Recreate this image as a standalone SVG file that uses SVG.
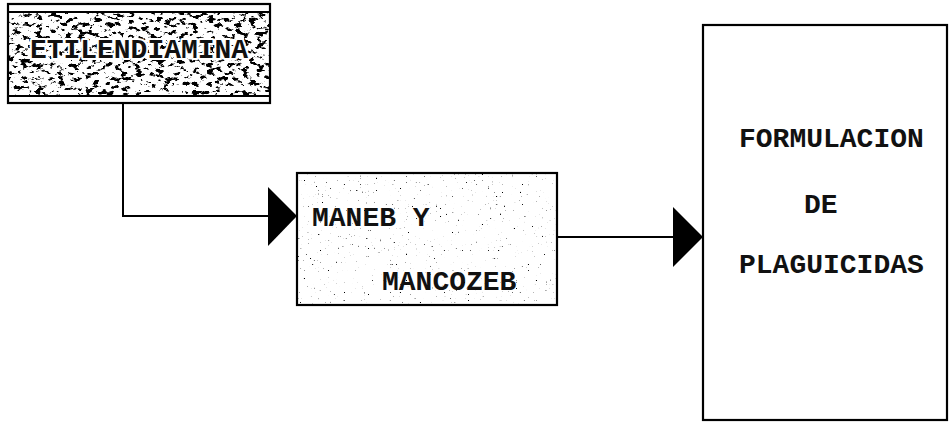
<svg xmlns="http://www.w3.org/2000/svg" width="949" height="422" viewBox="0 0 949 422">
<style>
  .box { fill: none; stroke: #000; stroke-width: 2.2; }
  .line { fill: none; stroke: #000; stroke-width: 2; }
  .head { fill: #000; stroke: none; }
  .lbl { font-family: "Liberation Mono", "Courier New", monospace; font-weight: bold; font-size: 28px; fill: #111; }
  .halo { stroke: #fff; stroke-width: 4px; paint-order: stroke; stroke-linejoin: round; }
</style>
<defs>
  <filter id="speckDark" x="0" y="0" width="100%" height="100%" color-interpolation-filters="sRGB">
    <feTurbulence type="fractalNoise" baseFrequency="0.14 0.22" numOctaves="4" seed="7" result="n"/>
    <feColorMatrix in="n" type="matrix" values="0 0 0 0 0  0 0 0 0 0  0 0 0 0 0  1 0 0 0 0"/>
    <feComponentTransfer><feFuncA type="linear" slope="12" intercept="-6.6"/></feComponentTransfer>
  </filter>
  <filter id="speckLight" x="0" y="0" width="100%" height="100%" color-interpolation-filters="sRGB">
    <feTurbulence type="fractalNoise" baseFrequency="0.5" numOctaves="2" seed="11" result="n"/>
    <feColorMatrix in="n" type="matrix" values="0 0 0 0 0  0 0 0 0 0  0 0 0 0 0  1 0 0 0 0"/>
    <feComponentTransfer><feFuncA type="linear" slope="10" intercept="-7.2"/></feComponentTransfer>
  </filter>
</defs>
<rect width="949" height="422" fill="#fff"/>

<g id="connectors">
  <polyline class="line" points="123,103 123,216 270,216"/>
  <polygon class="head" points="268,187 297,216 268,246"/>
  <line class="line" x1="557" y1="237" x2="675" y2="237"/>
  <polygon class="head" points="673,207 703,237 673,267"/>
</g>

<g id="node-etilendiamina">
  <rect x="8" y="4" width="262" height="99" fill="#fff"/>
  <rect x="9" y="13" width="260" height="83" fill="#888" filter="url(#speckDark)"/>
  <rect class="box" x="8" y="4" width="262" height="99"/>
  <line class="line" x1="8" y1="12" x2="270" y2="12"/>
  <line class="line" x1="8" y1="96" x2="270" y2="96"/>
  <text class="lbl halo" x="30" y="58" textLength="218" lengthAdjust="spacingAndGlyphs">ETILENDIAMINA</text>
</g>

<g id="node-maneb">
  <rect x="297" y="173" width="260" height="132" fill="#fff"/>
  <rect x="298" y="174" width="258" height="130" fill="#888" filter="url(#speckLight)"/>
  <rect class="box" x="297" y="173" width="260" height="132"/>
  <text class="lbl" x="312" y="226">MANEB Y</text>
  <text class="lbl" x="382" y="290">MANCOZEB</text>
</g>

<g id="node-formulacion">
  <rect class="box" x="703" y="25" width="244" height="395" fill="#fff"/>
  <text class="lbl" x="739" y="147">FORMULACION</text>
  <text class="lbl" x="804" y="213">DE</text>
  <text class="lbl" x="739" y="273">PLAGUICIDAS</text>
</g>
</svg>
